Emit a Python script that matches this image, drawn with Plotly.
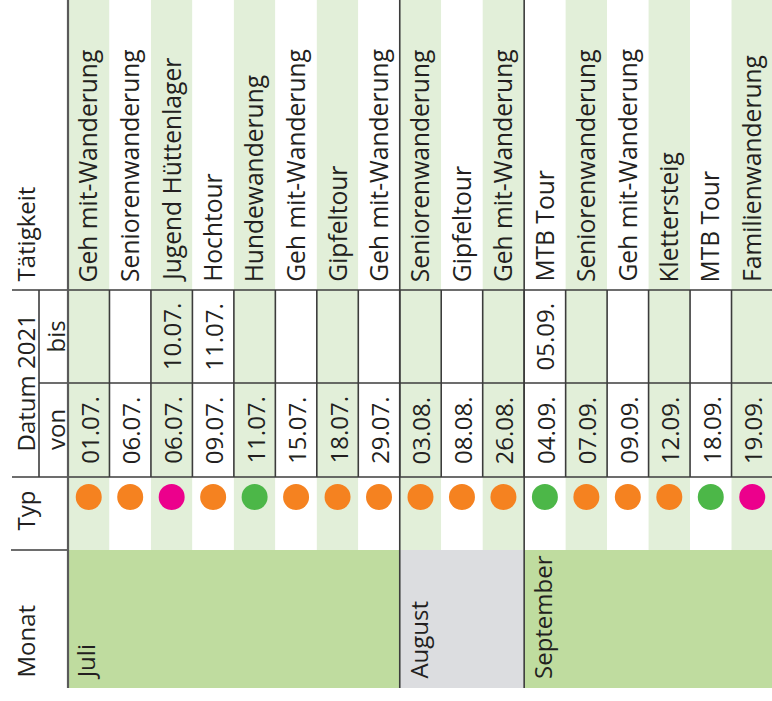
import plotly.graph_objects as go

# ---------------- data ----------------
taetigkeit = ["Geh mit-Wanderung", "Seniorenwanderung", "Jugend Hüttenlager", "Hochtour",
              "Hundewanderung", "Geh mit-Wanderung", "Gipfeltour", "Geh mit-Wanderung",
              "Seniorenwanderung", "Gipfeltour", "Geh mit-Wanderung",
              "MTB Tour", "Seniorenwanderung", "Geh mit-Wanderung", "Klettersteig",
              "MTB Tour", "Familienwanderung"]
datum_von = ["01.07.", "06.07.", "06.07.", "09.07.", "11.07.", "15.07.", "18.07.", "29.07.",
             "03.08.", "08.08.", "26.08.",
             "04.09.", "07.09.", "09.09.", "12.09.", "18.09.", "19.09."]
datum_bis = ["", "", "10.07.", "11.07.", "", "", "", "",
             "", "", "",
             "05.09.", "", "", "", "", ""]
typ = ["orange", "orange", "magenta", "orange", "gruen", "orange", "orange", "orange",
       "orange", "orange", "orange",
       "gruen", "orange", "orange", "orange", "gruen", "magenta"]
monate = ["Juli", "August", "September"]
monat_anzahl = [8, 3, 6]
header_labels = {"taetigkeit": "Tätigkeit", "datum": "Datum 2021", "bis": "bis",
                 "von": "von", "typ": "Typ", "monat": "Monat"}

# ---------------- style / layout ----------------
W, H = 772, 701
X0_PX = 68.0          # left border of the table body (px)
COL_PX = 41.47        # width of one activity column (px)
# row boundaries (px from top)
Y_TOP, Y_BIS, Y_VON, Y_TYP, Y_MON, Y_END = 0, 290, 383, 477, 550, 688

typ_colors = {"orange": "#f58220", "magenta": "#ec008c", "gruen": "#4cb748"}
stripe = "#e2efd9"
monat_colors = {"Juli": "#bfdc9f", "August": "#dcdde0", "September": "#bfdc9f"}
line_c = "#3c3c3c"
text_c = "#231f20"
FONT = "Open Sans"
FS = 24
FS_T = 24.6


def px2x(p):
    return (p - X0_PX) / COL_PX


n = len(taetigkeit)
shapes = []
annotations = []

# striped background for Tätigkeit / Datum / Typ rows
for i in range(n):
    shapes.append(dict(type="rect", xref="x", yref="y", x0=i, x1=i + 1, y0=Y_TOP, y1=Y_MON,
                       fillcolor=stripe if i % 2 == 0 else "white", line_width=0, layer="below"))

# month blocks
start = 0
month_starts = []
for m, cnt in zip(monate, monat_anzahl):
    month_starts.append(start)
    shapes.append(dict(type="rect", xref="x", yref="y", x0=start, x1=start + cnt, y0=Y_MON, y1=Y_END,
                       fillcolor=monat_colors[m], line_width=0, layer="below"))
    annotations.append(dict(x=start + 0.43, y=Y_END - 7, xref="x", yref="y", text=m,
                            textangle=-90, showarrow=False, xanchor="center", yanchor="bottom",
                            font=dict(family=FONT, size=FS, color=text_c)))
    start += cnt

# date grid
for i in range(n + 1):
    shapes.append(dict(type="line", xref="x", yref="y", x0=i, x1=i, y0=Y_BIS, y1=Y_TYP,
                       line=dict(color=line_c, width=1.6)))
for yy, xl in [(Y_BIS, 12), (Y_VON, 39), (Y_TYP, 12)]:
    shapes.append(dict(type="line", xref="x", yref="y", x0=px2x(xl), x1=n, y0=yy, y1=yy,
                       line=dict(color=line_c, width=1.6)))
# header lines
shapes.append(dict(type="line", xref="x", yref="y", x0=px2x(39), x1=px2x(39), y0=Y_BIS, y1=Y_TYP,
                   line=dict(color=line_c, width=1.6)))
shapes.append(dict(type="line", xref="x", yref="y", x0=px2x(11), x1=0, y0=Y_MON, y1=Y_MON,
                   line=dict(color=line_c, width=1.6)))
# month dividers (full height)
for s in month_starts[1:]:
    shapes.append(dict(type="line", xref="x", yref="y", x0=s, x1=s, y0=Y_TOP, y1=Y_END,
                       line=dict(color=line_c, width=1.6)))
# left border of body
shapes.append(dict(type="line", xref="x", yref="y", x0=0, x1=0, y0=Y_TOP, y1=Y_END,
                   line=dict(color="#5a5a5a", width=2.2)))

# cell texts
for i in range(n):
    cx = i + 0.5
    annotations.append(dict(x=cx - 0.02, y=Y_BIS - 6, xref="x", yref="y", text=taetigkeit[i],
                            textangle=-90, showarrow=False, xanchor="center", yanchor="bottom",
                            font=dict(family=FONT, size=FS_T, color=text_c)))
    annotations.append(dict(x=cx, y=(Y_VON + Y_TYP) / 2, xref="x", yref="y", text=datum_von[i],
                            textangle=-90, showarrow=False, xanchor="center", yanchor="middle",
                            font=dict(family=FONT, size=FS, color=text_c)))
    if datum_bis[i]:
        annotations.append(dict(x=cx, y=(Y_BIS + Y_VON) / 2, xref="x", yref="y", text=datum_bis[i],
                                textangle=-90, showarrow=False, xanchor="center", yanchor="middle",
                                font=dict(family=FONT, size=FS, color=text_c)))

# header texts
hx = px2x(25)
hx2 = px2x(55)
annotations += [
    dict(x=hx, y=Y_BIS - 6, text=header_labels["taetigkeit"], yanchor="bottom"),
    dict(x=hx, y=(Y_BIS + Y_TYP) / 2, text=header_labels["datum"], yanchor="middle"),
    dict(x=hx2, y=(Y_BIS + Y_VON) / 2, text=header_labels["bis"], yanchor="middle"),
    dict(x=hx2, y=(Y_VON + Y_TYP) / 2, text=header_labels["von"], yanchor="middle"),
    dict(x=hx, y=(Y_TYP + Y_MON) / 2 - 3, text=header_labels["typ"], yanchor="middle"),
    dict(x=hx, y=Y_END - 8, text=header_labels["monat"], yanchor="bottom"),
]
for a in annotations[-6:]:
    a.update(xref="x", yref="y", textangle=-90, showarrow=False, xanchor="center",
             font=dict(family=FONT, size=FS, color=text_c))

fig = go.Figure()
fig.add_trace(go.Scatter(
    x=[i + 0.5 for i in range(n)], y=[497] * n, mode="markers",
    marker=dict(size=26, color=[typ_colors[t] for t in typ], line_width=0),
    hoverinfo="skip", showlegend=False))

fig.update_layout(
    width=W, height=H, margin=dict(l=0, r=0, t=0, b=0),
    paper_bgcolor="white", plot_bgcolor="white",
    xaxis=dict(range=[px2x(0), px2x(W)], visible=False, fixedrange=True),
    yaxis=dict(range=[H, 0], visible=False, fixedrange=True),
    shapes=shapes, annotations=annotations, showlegend=False,
)
fig.write_html("out.html", config={"displayModeBar": False},
               post_script="document.body.style.margin='0px';document.body.style.overflow='hidden';")
